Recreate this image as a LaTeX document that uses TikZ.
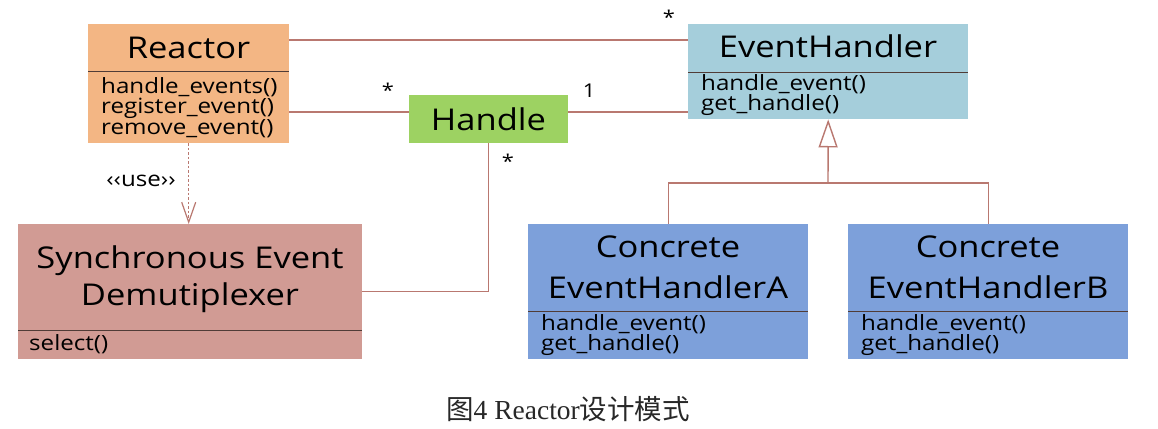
\documentclass[tikz,border=0pt]{standalone}
\usepackage{fontspec}
\setmainfont{Open Sans}[FakeStretch=1.15]
\newfontfamily\capfont{Liberation Serif}
\newfontfamily\cjk{Noto Sans CJK SC}
\usetikzlibrary{arrows.meta}
\definecolor{reactorC}{RGB}{243,182,132}
\definecolor{handleC}{RGB}{157,210,98}
\definecolor{ehC}{RGB}{165,206,219}
\definecolor{demuxC}{RGB}{209,155,148}
\definecolor{concC}{RGB}{125,160,218}
\definecolor{lineC}{RGB}{185,120,112}
\definecolor{divC}{RGB}{80,60,55}
\definecolor{capC}{RGB}{40,40,40}
\tikzset{
  cls/.style={rectangle, draw=none, inner sep=0pt, anchor=north west},
  conn/.style={draw=lineC, line width=1.4pt},
  divline/.style={draw=divC, line width=0.9pt},
  title/.style={inner sep=0pt, anchor=base, font=\fontsize{30}{34}\selectfont},
  meth/.style={inner sep=0pt, anchor=base west, font=\fontsize{21}{20}\selectfont},
  mult/.style={inner sep=0pt, font=\fontsize{19}{20}\selectfont},
}
\begin{document}
\begin{tikzpicture}[x=1pt, y=-1pt]
\useasboundingbox[fill=white] (0,0) rectangle (1158,428);

% Reactor
\node[cls, fill=reactorC, minimum width=201pt, minimum height=119pt] (reactor) at (88,24) {};
\node[title] (reactorT) at (188.5,59) {Reactor};
\draw[divline] (88,71) -- (289,71);
\node[meth] (rm1) at (101,93) {handle\_events()};
\node[meth] (rm2) at (101,113) {register\_event()};
\node[meth] (rm3) at (101,134) {remove\_event()};

% Handle
\node[cls, fill=handleC, minimum width=159pt, minimum height=48pt] (handle) at (409,95) {};
\node[title] (handleT) at (488.5,130) {Handle};

% EventHandler
\node[cls, fill=ehC, minimum width=280pt, minimum height=95pt] (eh) at (688,24) {};
\node[title] (ehT) at (828,58) {EventHandler};
\draw[divline] (688,72) -- (968,72);
\node[meth] (em1) at (701,90) {handle\_event()};
\node[meth] (em2) at (701,110) {get\_handle()};

% Synchronous Event Demultiplexer
\node[cls, fill=demuxC, minimum width=344pt, minimum height=135pt] (demux) at (18,224) {};
\node[title] (demuxT1) at (190,268) {Synchronous Event};
\node[title] (demuxT2) at (190,305) {Demutiplexer};
\draw[divline] (18,330) -- (362,330);
\node[meth] (dm1) at (29,350) {select()};

% Concrete A
\node[cls, fill=concC, minimum width=280pt, minimum height=135pt] (ca) at (528,224) {};
\node[title] (caT1) at (668,257) {Concrete};
\node[title] (caT2) at (668,298) {EventHandlerA};
\draw[divline] (528,311) -- (808,311);
\node[meth] (cam1) at (541,330) {handle\_event()};
\node[meth] (cam2) at (541,350) {get\_handle()};

% Concrete B
\node[cls, fill=concC, minimum width=280pt, minimum height=135pt] (cb) at (848,224) {};
\node[title] (cbT1) at (988,257) {Concrete};
\node[title] (cbT2) at (988,298) {EventHandlerB};
\draw[divline] (848,311) -- (1128,311);
\node[meth] (cbm1) at (861,330) {handle\_event()};
\node[meth] (cbm2) at (861,350) {get\_handle()};

% associations
\coordinate (yA) at (0,40);
\coordinate (yB) at (0,112);
\draw[conn] (reactor.east |- yA) -- (eh.west |- yA);
\draw[conn] (reactor.east |- yB) -- (handle.west |- yB);
\draw[conn] (handle.east |- yB) -- (eh.west |- yB);
\draw[conn] (handle.south) |- (demux.east);

% multiplicities
\node[mult] (m1) at (669,17) {*};
\node[mult] (m2) at (388,90) {*};
\node[mult] (m3) at (589,91) {1};
\node[mult] (m4) at (508,161) {*};

% use dependency
\draw[conn, line width=1.4pt, dash pattern=on 2.5pt off 2pt, -{Straight Barb[length=20pt, width=14pt, line width=1.2pt]}] (reactor.south) -- (reactor.south |- demux.north);
\node[inner sep=0pt, font=\fontsize{21}{22}\selectfont] (use) at (141,181) {‹‹use››};

% inheritance
\coordinate (junc) at (828,183);
\draw[conn] (ca.north) -- ++(0,-41) -| (cb.north);
\draw[conn, -{Triangle[open, length=28pt, width=19pt, fill=white]}] (junc) -- (eh.south);

% caption
\node[inner sep=0pt, text=capC, font=\fontsize{27.5}{30}\selectfont] (cap) at (568,409) {{\cjk 图}{\capfont 4 Reactor}{\cjk 设计模式}};
\end{tikzpicture}
\end{document}
